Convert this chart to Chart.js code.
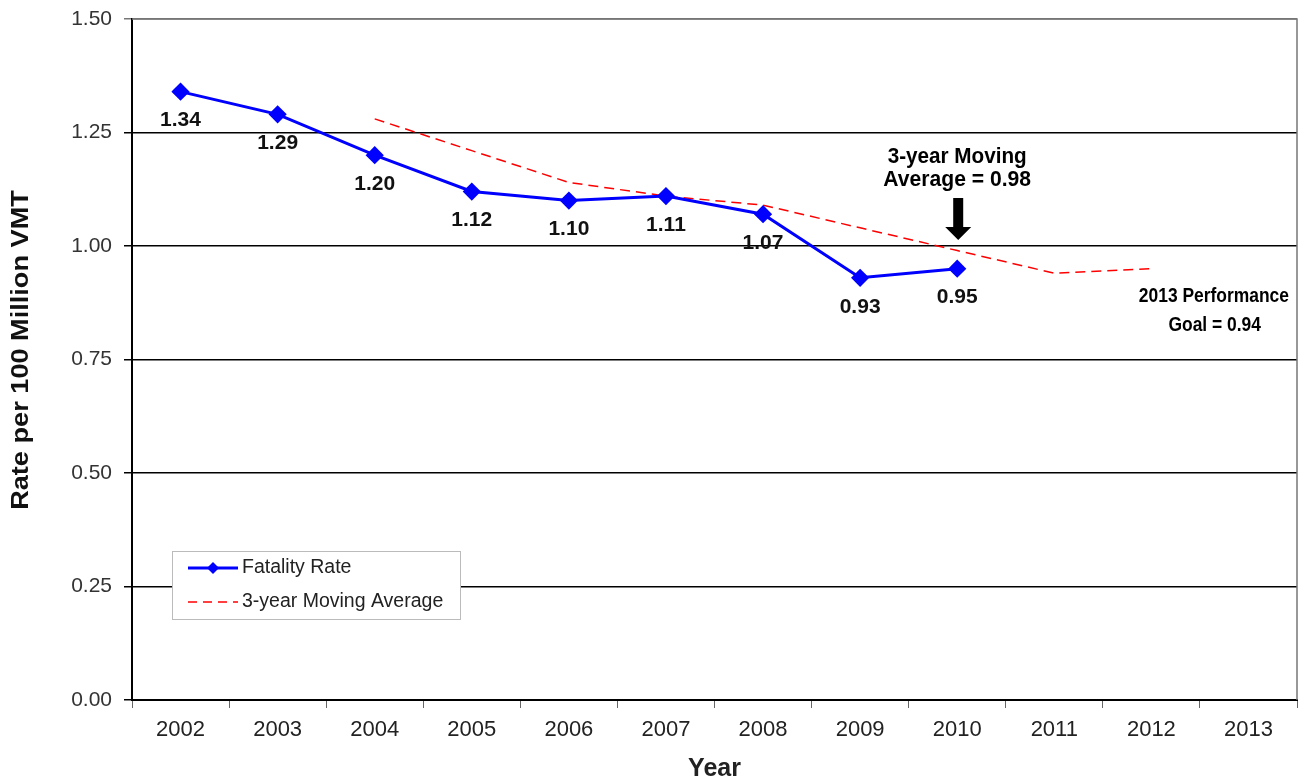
<!DOCTYPE html>
<html>
<head>
<meta charset="utf-8">
<script src="https://cdn.jsdelivr.net/npm/chart.js@4/dist/chart.umd.min.js"></script>
<style>
  html, body { margin: 0; padding: 0; background: #fff; }
  #wrap { width: 1307px; height: 784px; }
</style>
</head>
<body>
<div id="wrap"><canvas id="rateChart" width="1307" height="784"></canvas></div>
<script>
var years = ["2002", "2003", "2004", "2005", "2006", "2007", "2008", "2009", "2010", "2011", "2012", "2013"];
var fatalityRate = [1.34, 1.29, 1.20, 1.12, 1.10, 1.11, 1.07, 0.93, 0.95, null, null, null];
var movingAverage = [null, null, 1.28, 1.21, 1.14, 1.11, 1.09, 1.04, 0.99, 0.94, 0.95, null];
var rateLabels = ["1.34", "1.29", "1.20", "1.12", "1.10", "1.11", "1.07", "0.93", "0.95"];

var sans = "'Liberation Sans', Arial, sans-serif";

// value labels under the blue points
var pointLabels = {
    id: "pointLabels",
    afterDatasetsDraw: function(chart) {
        var ctx = chart.ctx;
        var meta = chart.getDatasetMeta(0);
        ctx.save();
        ctx.font = "bold 21px " + sans;
        ctx.fillStyle = "#111";
        ctx.textAlign = "center";
        ctx.textBaseline = "middle";
        meta.data.forEach(function(pt, i) {
            if (rateLabels[i] === undefined) return;
            ctx.fillText(rateLabels[i], pt.x, pt.y + 29);
        });
        ctx.restore();
    }
};

// text squeezed horizontally, like a narrow face
function narrowText(ctx, txt, x, y, squeeze) {
    ctx.save();
    ctx.translate(x, y);
    ctx.scale(squeeze, 1);
    ctx.fillText(txt, 0, 0);
    ctx.restore();
}

// frame, y title, annotations and legend box
var extras = {
    id: "extras",
    beforeDatasetsDraw: function(chart) {
        var a = chart.chartArea, ctx = chart.ctx;
        ctx.save();
        ctx.strokeStyle = "#777";
        ctx.lineWidth = 1.5;
        ctx.beginPath();
        ctx.moveTo(a.left, a.top);
        ctx.lineTo(a.right, a.top);
        ctx.lineTo(a.right, a.bottom);
        ctx.stroke();
        ctx.restore();
    },
    afterDraw: function(chart) {
        var ctx = chart.ctx;
        var xs = chart.scales.x, ys = chart.scales.y;
        ctx.save();

        // y axis title, stretched along its length
        ctx.save();
        ctx.translate(22, 350);
        ctx.rotate(-Math.PI / 2);
        ctx.scale(1.18, 1);
        ctx.font = "bold 23px " + sans;
        ctx.fillStyle = "#111";
        ctx.textAlign = "center";
        ctx.textBaseline = "middle";
        ctx.fillText("Rate per 100 Million VMT", 0, 0);
        ctx.restore();

        // arrow pointing at the 2010 moving average
        var ax = xs.getPixelForValue(8) + 1;
        var tip = ys.getPixelForValue(1.013);
        ctx.fillStyle = "#000";
        ctx.beginPath();
        ctx.moveTo(ax - 5, tip - 42);
        ctx.lineTo(ax + 5, tip - 42);
        ctx.lineTo(ax + 5, tip - 13);
        ctx.lineTo(ax + 13, tip - 13);
        ctx.lineTo(ax, tip);
        ctx.lineTo(ax - 13, tip - 13);
        ctx.lineTo(ax - 5, tip - 13);
        ctx.closePath();
        ctx.fill();

        ctx.font = "bold 22px " + sans;
        ctx.textAlign = "center";
        ctx.textBaseline = "middle";
        narrowText(ctx, "3-year Moving", ax - 1, tip - 83, 0.94);
        narrowText(ctx, "Average = 0.98", ax - 1, tip - 60, 0.96);

        var gx = chart.chartArea.right - 8;
        var gy = ys.getPixelForValue(0.94);
        ctx.textAlign = "right";
        ctx.font = "bold 21px " + sans;
        narrowText(ctx, "2013 Performance", gx, gy + 23, 0.83);
        narrowText(ctx, "Goal = 0.94", gx - 28, gy + 52, 0.83);

        // legend box
        var lx = 172, ly = 551, lw = 288, lh = 68;
        ctx.fillStyle = "#fff";
        ctx.fillRect(lx, ly, lw, lh);
        ctx.strokeStyle = "#bbb";
        ctx.lineWidth = 1;
        ctx.strokeRect(lx + 0.5, ly + 0.5, lw, lh);

        ctx.strokeStyle = "#0000ff";
        ctx.lineWidth = 3;
        ctx.beginPath();
        ctx.moveTo(lx + 16, ly + 17);
        ctx.lineTo(lx + 66, ly + 17);
        ctx.stroke();
        ctx.fillStyle = "#0000ff";
        ctx.beginPath();
        ctx.moveTo(lx + 41, ly + 11);
        ctx.lineTo(lx + 47, ly + 17);
        ctx.lineTo(lx + 41, ly + 23);
        ctx.lineTo(lx + 35, ly + 17);
        ctx.closePath();
        ctx.fill();

        ctx.strokeStyle = "#ff0000";
        ctx.lineWidth = 1.5;
        ctx.setLineDash([9, 6]);
        ctx.beginPath();
        ctx.moveTo(lx + 16, ly + 51);
        ctx.lineTo(lx + 66, ly + 51);
        ctx.stroke();
        ctx.setLineDash([]);

        ctx.fillStyle = "#222";
        ctx.font = "19.5px " + sans;
        ctx.textAlign = "left";
        ctx.fillText("Fatality Rate", lx + 70, ly + 17);
        ctx.fillText("3-year Moving Average", lx + 70, ly + 51);
        ctx.restore();
    }
};

var chart = new Chart(document.getElementById("rateChart").getContext("2d"), {
    type: "line",
    data: {
        labels: years,
        datasets: [
            {
                label: "Fatality Rate",
                data: fatalityRate,
                borderColor: "#0000ff",
                backgroundColor: "#0000ff",
                borderWidth: 3,
                pointStyle: "rectRot",
                pointRadius: 7,
                pointHoverRadius: 7,
                tension: 0
            },
            {
                label: "3-year Moving Average",
                data: movingAverage,
                borderColor: "#ff0000",
                backgroundColor: "#ff0000",
                borderWidth: 1.5,
                borderDash: [10, 6],
                pointRadius: 0,
                tension: 0
            }
        ]
    },
    options: {
        responsive: false,
        animation: false,
        layout: { padding: { top: 19, right: 7, left: 0, bottom: 0 } },
        plugins: {
            legend: { display: false },
            tooltip: { enabled: false }
        },
        scales: {
            x: {
                offset: true,
                grid: { offset: true, drawOnChartArea: false, color: "#666", tickLength: 8 },
                border: { color: "#000", width: 2 },
                ticks: { color: "#222", font: { family: sans, size: 22 }, padding: 9, maxRotation: 0 },
                title: { display: true, text: "Year", color: "#222", font: { family: sans, size: 25, weight: "bold" }, padding: { top: 0, bottom: 0 } },
                afterFit: function(s) { s.height = 84; }
            },
            y: {
                min: 0,
                max: 1.5,
                ticks: {
                    stepSize: 0.25,
                    color: "#333",
                    font: { family: sans, size: 21 },
                    padding: 12,
                    callback: function(v) { return v.toFixed(2); }
                },
                grid: {
                    color: function(c) { return c.tick && c.tick.value === 1.5 ? "#777" : "#000"; },
                    lineWidth: 1.5,
                    tickLength: 8
                },
                border: { color: "#000", width: 2 },
                title: { display: false },
                afterFit: function(s) {
                    s.width = 132;
                    s.paddingTop = 0;
                    s.paddingBottom = 0;
                }
            }
        }
    },
    plugins: [pointLabels, extras]
});
</script>
</body>
</html>
